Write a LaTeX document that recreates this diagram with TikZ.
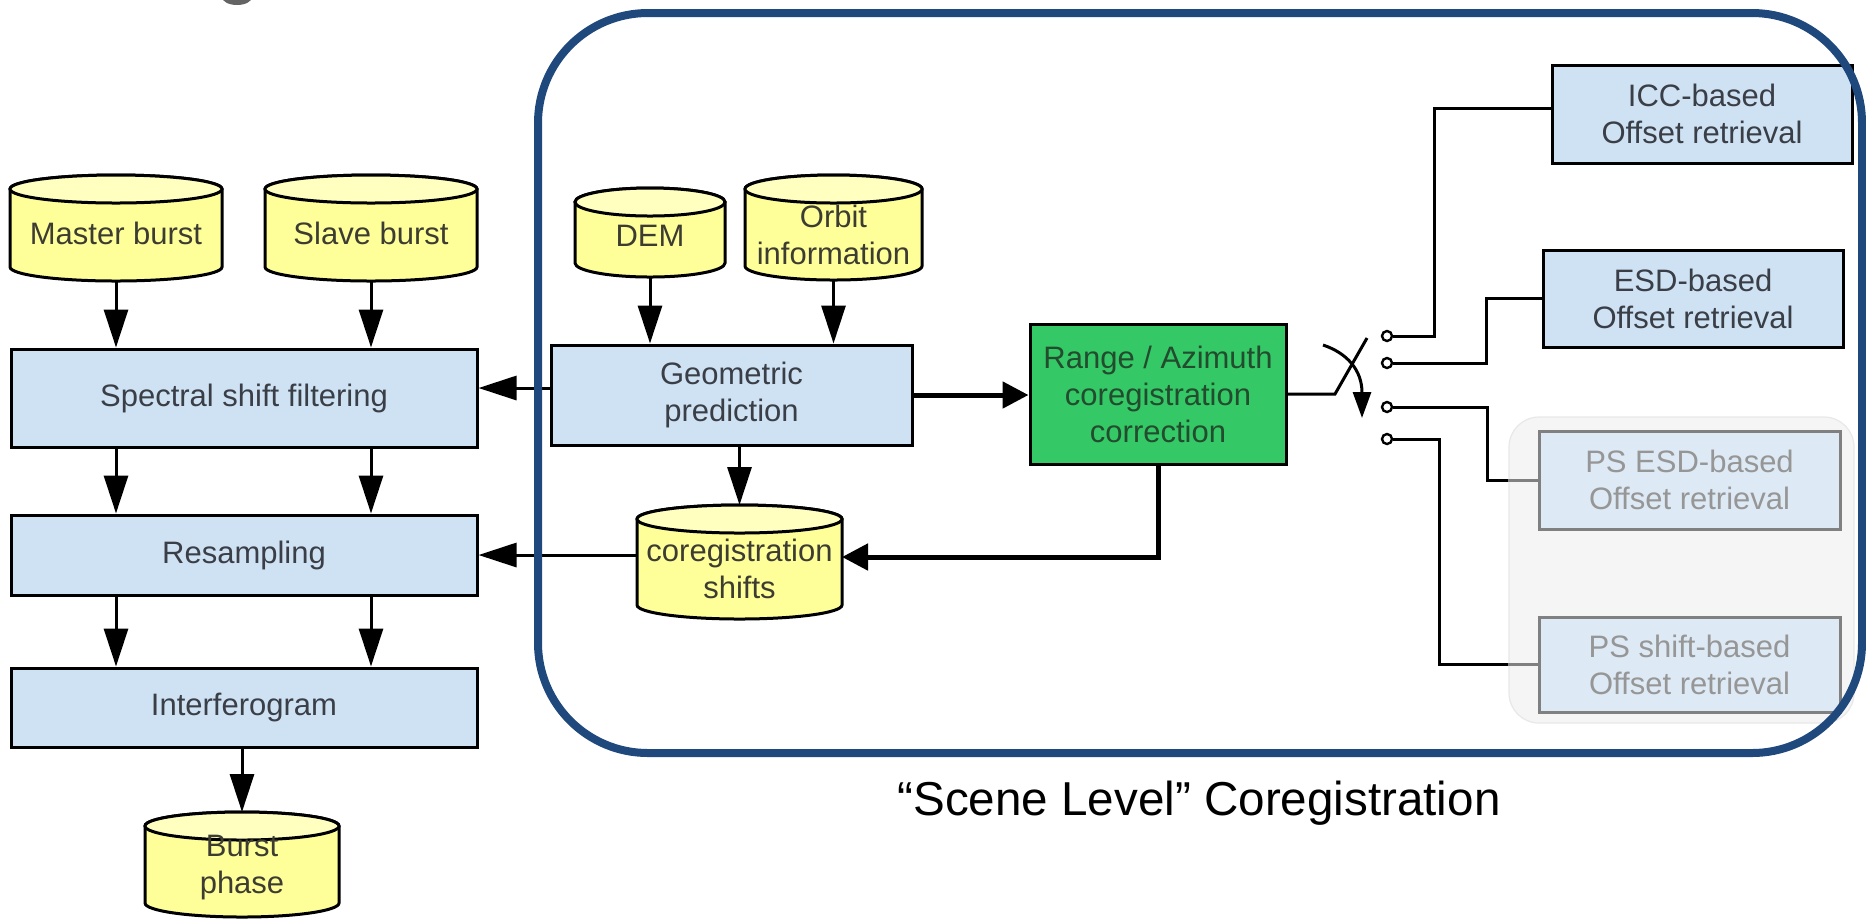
\documentclass[tikz,border=0pt]{standalone}
\usepackage{fontspec}
\setmainfont{Liberation Sans}
\usetikzlibrary{arrows.meta,calc}
\pgfdeclarelayer{background}
\pgfsetlayers{background,main}

\definecolor{frameblue}{RGB}{31,73,125}
\definecolor{boxblue}{RGB}{207,226,243}
\definecolor{dbyellow}{RGB}{255,255,153}
\definecolor{dbtop}{RGB}{255,255,192}
\definecolor{corrgreen}{RGB}{52,200,102}
\definecolor{corrtext}{RGB}{35,75,45}
\definecolor{boxtextc}{RGB}{58,62,70}
\definecolor{dbtext}{RGB}{60,60,50}
\definecolor{fadeline}{RGB}{128,128,128}
\definecolor{fadefill}{RGB}{221,233,244}
\definecolor{fadetext}{RGB}{150,150,150}
\definecolor{panelgray}{RGB}{245,245,245}
\definecolor{paneledge}{RGB}{232,232,232}
\definecolor{blobgray}{RGB}{100,100,100}

\tikzset{
  boxtext/.style={font=\fontsize{15.5}{18.5}\selectfont, align=center},
  procbox/.style={boxtext, text=boxtextc, draw=black, line width=1.5pt, fill=boxblue, inner sep=0pt},
  corrbox/.style={procbox, fill=corrgreen, text=corrtext},
  fadebox/.style={procbox, draw=fadeline, fill=fadefill, text=fadetext},
  panel/.style={draw=paneledge, line width=0.6pt, fill=panelgray, rounded corners=15pt, inner sep=0pt},
  drum/.style={inner sep=0pt, outer sep=0pt},
  drumtext/.style={boxtext, text=dbtext},
  drumline/.style={draw=black, line width=1.5pt},
  link/.style={line width=1.5pt},
  flow/.style={link, -{Triangle[length=19pt,width=12pt]}},
  boldflow/.style={line width=2.5pt, -{Triangle[length=13pt,width=13pt]}},
  leverflow/.style={link, -{Triangle[length=13pt,width=9pt]}},
  terminal/.style={circle, draw=black, line width=1.2pt, fill=white, inner sep=0pt, minimum size=5pt},
  caption/.style={font=\fontsize{23.8}{28}\selectfont, text=black},
  frame/.style={draw=frameblue, line width=4pt, rounded corners=55pt},
}

% database drum drawn behind a rectangular node of the same extent
\newcommand\drumshape[1]{%
  \filldraw[drumline, fill=dbyellow]
    let \p1=(#1.north west), \p2=(#1.south east), \p3=($(#1.north east)-(#1.north)$) in
    (\x1,\y1-7pt) -- (\x1,\y2+7pt)
    arc[start angle=180, end angle=360, x radius=\x3, y radius=7pt]
    -- (\x2,\y1-7pt)
    arc[start angle=0, end angle=180, x radius=\x3, y radius=7pt] -- cycle;
  \filldraw[drumline, fill=dbtop]
    let \p3=($(#1.north east)-(#1.north)$) in
    ([yshift=-7pt]#1.north) ellipse [x radius=\x3, y radius=7pt];
}

\begin{document}
\begin{tikzpicture}[x=0.5pt,y=-0.5pt]
\useasboundingbox (0,0) rectangle (1866,918);

% ---- burst processing chain
\node[drum, minimum width=106pt, minimum height=53pt,
      label={[drumtext,yshift=-2.5pt]center:Master burst}] (mb) at (116,228) {};
\node[drum, minimum width=106pt, minimum height=53pt,
      label={[drumtext,yshift=-2.5pt]center:Slave burst}] (sb) at (371,228) {};
\node[procbox, minimum width=233pt, minimum height=49pt] (spec) at (244,398) {Spectral shift filtering};
\node[procbox, minimum width=233pt, minimum height=40pt] (resamp) at (244,555) {Resampling};
\node[procbox, minimum width=233pt, minimum height=39.5pt] (interf) at (244,707.5) {Interferogram};
\node[drum, minimum width=97pt, minimum height=52.5pt,
      label={[drumtext,yshift=-1.5pt]center:{Burst\\phase}}] (bphase) at (242,864.5) {};

% ---- scene level coregistration
\node[drum, minimum width=75pt, minimum height=44.5pt,
      label={[drumtext,yshift=-1.75pt]center:DEM}] (dem) at (650,232.5) {};
\node[drum, minimum width=88.5pt, minimum height=52.5pt,
      label={[drumtext,yshift=-3.5pt]center:{Orbit\\information}}] (orbit) at (833.5,227.5) {};
\node[procbox, minimum width=180.5pt, minimum height=50pt] (geo) at (731.5,395) {Geometric\\prediction};
\node[corrbox, minimum width=128pt, minimum height=70pt] (rng) at (1158,394) {Range / Azimuth\\coregistration\\correction};
\node[drum, minimum width=102.5pt, minimum height=57pt,
      label={[drumtext,yshift=-3.5pt]center:{coregistration\\shifts}}] (shifts) at (739.5,562) {};

% ---- offset retrieval options
\node[procbox, minimum width=150pt, minimum height=49pt] (icc) at (1702,114) {ICC-based\\Offset retrieval};
\node[procbox, minimum width=150pt, minimum height=48.5pt] (esd) at (1693,298.5) {ESD-based\\Offset retrieval};
\node[panel, minimum width=172.5pt, minimum height=153pt] (psbg) at (1681.5,570) {};
\node[fadebox, minimum width=150.5pt, minimum height=49pt] (psesd) at (1689.5,480) {PS ESD-based\\Offset retrieval};
\node[fadebox, minimum width=150.5pt, minimum height=47.5pt] (psshift) at (1689.5,664.5) {PS shift-based\\Offset retrieval};

% ---- selector switch
\node[terminal] (t1) at (1387,336) {};
\node[terminal] (t2) at (1387,363) {};
\node[terminal] (t3) at (1387,407) {};
\node[terminal] (t4) at (1387,439) {};
\coordinate (sw) at (1335,394);
\coordinate (lever) at (1367,338);
\coordinate (armS) at (1323,345);
\coordinate (armE) at (1362,418);

\node[caption, anchor=base] (cap) at (1199,815) {“Scene Level” Coregistration};

\begin{pgfonlayer}{background}
  \fill[white] (0,0) rectangle (1866,918);
  \fill[blobgray] (237,-3) ellipse [x radius=7.5pt, y radius=4pt];
  \drumshape{mb}
  \drumshape{sb}
  \drumshape{bphase}
  \drumshape{dem}
  \drumshape{orbit}
  \drumshape{shifts}
\end{pgfonlayer}

% ---- connectors, left chain
\draw[flow] (mb.south) -- (mb.south |- spec.north);
\draw[flow] (sb.south) -- (sb.south |- spec.north);
\draw[flow] (mb.south |- spec.south) -- (mb.south |- resamp.north);
\draw[flow] (sb.south |- spec.south) -- (sb.south |- resamp.north);
\draw[flow] (mb.south |- resamp.south) -- (mb.south |- interf.north);
\draw[flow] (sb.south |- resamp.south) -- (sb.south |- interf.north);
\draw[flow] (bphase.north |- interf.south) -- (bphase.north);

% ---- connectors, coregistration
\draw[flow] (dem.south) -- (dem.south |- geo.north);
\draw[flow] (orbit.south) -- (orbit.south |- geo.north);
\coordinate (gout) at ([yshift=3.5pt]geo.west);
\draw[flow] (gout) -- (gout -| spec.east);
\draw[flow] (shifts.north |- geo.south) -- (shifts.north);
\draw[flow] (shifts.west |- resamp.east) -- (resamp.east);
\draw[boldflow] (geo.east) -- (rng.west |- geo.east);
\draw[boldflow] (rng.south) |- ([yshift=2.5pt]shifts.east);

% ---- switch and its outputs
\draw[link] (rng.east) -- (sw) -- (lever);
\draw[leverflow] (armS) .. controls (1347,353) and (1362,370) .. (armE);
\draw[link] (t1.east) -- ++(41,0) |- ([yshift=3pt]icc.west);
\draw[link] (t2.east) -- ++(93,0) |- (esd.west);
\draw[link] (t3.east) -- ++(94,0) |- (psbg.west |- psesd.west);
\draw[link, fadeline] (psbg.west |- psesd.west) -- (psesd.west);
\draw[link] (t4.east) -- ++(46,0) |- (psbg.west |- psshift.west);
\draw[link, fadeline] (psbg.west |- psshift.west) -- (psshift.west);

% ---- scene level frame
\draw[frame] (538,13) rectangle (1862,753);
\end{tikzpicture}
\end{document}
